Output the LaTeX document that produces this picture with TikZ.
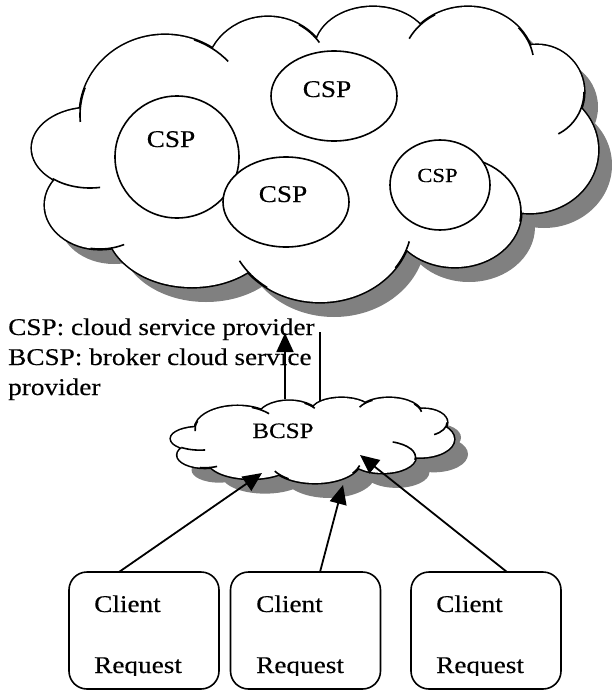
\documentclass[tikz,border=0pt]{standalone}
\usepackage{fontspec}
\setmainfont{Liberation Serif}[FakeStretch=1.135, FakeBold=0.3]
\usetikzlibrary{arrows.meta,shapes.geometric}

\definecolor{cloudshade}{HTML}{808080}

% Puffs of the cloud outline (pixel-like units, y pointing down)
\newcommand\cloudbumps[1]{%
  \path[#1]
    (90,148)  ellipse [x radius=58,  y radius=40]
    (165,115) ellipse [x radius=85,  y radius=80]
    (268,75)  ellipse [x radius=62,  y radius=58]
    (373,50)  ellipse [x radius=58,  y radius=43]
    (468,65)  ellipse [x radius=66,  y radius=58]
    (537,92)  ellipse [x radius=47,  y radius=47]
    (530,150) ellipse [x radius=68,  y radius=63]
    (455,212) ellipse [x radius=66,  y radius=55]
    (320,222) ellipse [x radius=92,  y radius=80]
    (192,224) ellipse [x radius=86,  y radius=63]
    (100,205) ellipse [x radius=55,  y radius=44]
    (310,150) ellipse [x radius=230, y radius=105];}

% Short inner arcs where two puffs meet
\newcommand\cloudhooks[1]{%
  \draw[#1] (90,148)  ++(130:58 and 40) arc[start angle=130, end angle=80,  x radius=58, y radius=40];
  \draw[#1] (165,115) ++(200:85 and 80) arc[start angle=200, end angle=175, x radius=85, y radius=80];
  \draw[#1] (165,115) ++(290:85 and 80) arc[start angle=290, end angle=318, x radius=85, y radius=80];
  \draw[#1] (268,75)  ++(300:62 and 58) arc[start angle=300, end angle=326, x radius=62, y radius=58];
  \draw[#1] (468,65)  ++(240:66 and 58) arc[start angle=240, end angle=207, x radius=66, y radius=58];
  \draw[#1] (468,65)  ++(320:66 and 58) arc[start angle=320, end angle=350, x radius=66, y radius=58];
  \draw[#1] (537,92)  ++(0:47 and 47)   arc[start angle=0,   end angle=63,  x radius=47, y radius=47];
  \draw[#1] (455,212) ++(10:66 and 55)  arc[start angle=10,  end angle=-72, x radius=66, y radius=55];
  \draw[#1] (320,222) ++(35:92 and 80)  arc[start angle=35,  end angle=14,  x radius=92, y radius=80];
  \draw[#1] (320,222) ++(125:92 and 80) arc[start angle=125, end angle=151, x radius=92, y radius=80];
  \draw[#1] (100,205) ++(100:55 and 44) arc[start angle=100, end angle=64,  x radius=55, y radius=44];}

\tikzset{
  cspell/.style={ellipse, draw, fill=white, line width=1.6pt, inner sep=0},
  txt/.style={inner sep=0, font=\fontsize{24}{28}\selectfont},
  smalltxt/.style={inner sep=0, font=\fontsize{20}{24}\selectfont},
  clientbox/.style={draw, rounded corners=18pt, line width=1.6pt,
    minimum width=150pt, minimum height=117pt, inner sep=0},
  link/.style={line width=1.8pt, -{Triangle[length=19pt, width=17pt]}},
  plain/.style={line width=1.8pt}
}

\begin{document}
\begin{tikzpicture}[x=1pt, y=-1pt]
\useasboundingbox (0,0) rectangle (611,691);

% provider cloud with its drop shadow
\begin{scope}[shift={(14,15)}]\cloudbumps{fill=cloudshade}\end{scope}
\cloudbumps{draw, line width=3.2pt}
\cloudbumps{fill=white}
\cloudhooks{line width=1.6pt}

\node[cspell, minimum width=126pt, minimum height=90pt]  (cspTop)    at (334,96)  {};
\node[cspell, minimum width=124pt, minimum height=122pt] (cspLeft)   at (177,157) {};
\node[cspell, minimum width=126pt, minimum height=90pt]  (cspBottom) at (286,202) {};
\node[cspell, minimum width=100pt, minimum height=90pt]  (cspSmall)  at (440,185) {};

\node[txt, anchor=base]      (tTop)    at (327,97)    {CSP};
\node[txt, anchor=base]      (tLeft)   at (171,147)   {CSP};
\node[txt, anchor=base]      (tBottom) at (283,202)   {CSP};
\node[smalltxt, anchor=base] (tSmall)  at (437.5,182) {CSP};

% broker cloud: the same outline, squeezed
\begin{scope}[shift={(155,396)}, xscale=0.5, yscale=0.288]
  \begin{scope}[shift={(28,52)}]\cloudbumps{fill=cloudshade}\end{scope}
  \cloudbumps{draw, line width=3.2pt}
  \cloudbumps{fill=white}
  \cloudhooks{line width=1.6pt}
\end{scope}
\node[font=\fontsize{22}{26}\selectfont, inner sep=0, anchor=base] (bcsp) at (283,438) {BCSP};

% legend
\node[txt, anchor=base west] (leg1) at (8,335) {CSP: cloud service provider};
\node[txt, anchor=base west] (leg2) at (8,365) {BCSP: broker cloud service};
\node[txt, anchor=base west] (leg3) at (8,395) {provider};

% broker to providers
\coordinate (upFoot)   at (285,399);
\coordinate (upTip)    at (285,333);
\coordinate (backFoot) at (320,401);
\coordinate (backTop)  at (320,332);
\draw[link]  (upFoot) -- (upTip);
\draw[plain] (backFoot) -- (backTop);

% client requests
\node[clientbox] (c1) at (144,630.5) {};
\node[clientbox] (c2) at (305.5,630.5) {};
\node[clientbox] (c3) at (486,630.5) {};

\node[txt, anchor=base west] (cl1) at (94,612)  {Client};
\node[txt, anchor=base west] (cl2) at (256,612) {Client};
\node[txt, anchor=base west] (cl3) at (436,612) {Client};
\begin{scope}
  \clip (0,0) rectangle (611,675.5);
  \node[txt, anchor=base west] (rq1) at (94,673)  {Request};
  \node[txt, anchor=base west] (rq2) at (256,673) {Request};
  \node[txt, anchor=base west] (rq3) at (436,673) {Request};
\end{scope}

\coordinate (s1) at (119,572);
\coordinate (s2) at (320,572);
\coordinate (s3) at (507,572);
\coordinate (t1) at (262,473);
\coordinate (t2) at (343,485);
\coordinate (t3) at (360,455);
\draw[link] (s1) -- (t1);
\draw[link] (s2) -- (t2);
\draw[link] (s3) -- (t3);
\end{tikzpicture}
\end{document}
